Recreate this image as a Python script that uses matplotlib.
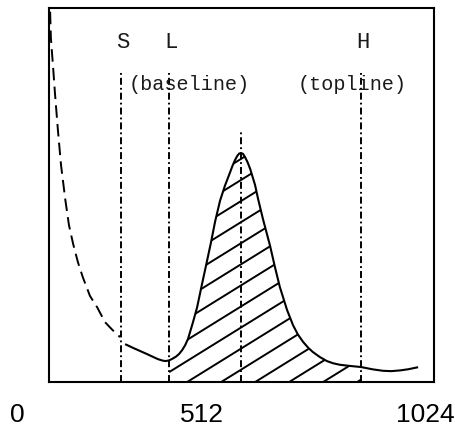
import numpy as np
import matplotlib
matplotlib.use("Agg")
import matplotlib.pyplot as plt
from matplotlib.collections import LineCollection

plt.rcParams["lines.scale_dashes"] = False

# low-energy tail below S (drawn dashed)
TAIL_CH = [3, 5, 11, 16, 24, 32, 43, 53, 64, 77, 90, 109, 128, 149, 168, 189]
TAIL_Y = [0.99, 0.92, 0.84, 0.77, 0.67, 0.58, 0.49, 0.42, 0.37, 0.32, 0.28,
          0.23, 0.20, 0.16, 0.14, 0.12]

# measured spectrum from S upwards
SPEC_CH = [205, 224, 242, 260, 277, 290, 303, 311, 320, 328, 338, 346, 354,
           362, 370, 383, 394, 407, 418, 431, 442, 455, 468, 481, 488, 495,
           501, 506, 511, 516, 521, 528, 535, 548, 556, 569, 588, 601, 614,
           633, 649, 662, 676, 690, 702, 720, 739, 756, 774, 800, 830, 860,
           888, 910, 934, 955, 979]
SPEC_Y = [0.100, 0.091, 0.083, 0.075, 0.067, 0.061, 0.057, 0.056, 0.058,
          0.062, 0.068, 0.075, 0.085, 0.098, 0.116, 0.160, 0.200, 0.262,
          0.313, 0.374, 0.430, 0.485, 0.525, 0.559, 0.578, 0.594, 0.605,
          0.611, 0.612, 0.610, 0.602, 0.588, 0.570, 0.527, 0.490, 0.436,
          0.364, 0.307, 0.254, 0.193, 0.152, 0.127, 0.107, 0.091, 0.080,
          0.067, 0.056, 0.050, 0.046, 0.043, 0.040, 0.034, 0.030, 0.029,
          0.031, 0.034, 0.039]

# marker lines: S, L (baseline), peak, H (topline)
MARK_CH = [191, 320, 511, 830]
MARK_TOP = [0.835, 0.835, 0.668, 0.835]
MARK_NAMES = ["S", "L", "H"]
MARK_NAME_CH = [191, 320, 830]
XTICK_LABELS = ["0", "512", "1024"]

L_CH, H_CH = 320, 830

W, H = 456, 427
fig = plt.figure(figsize=(W / 100, H / 100), dpi=100)
ax = fig.add_axes([49 / W, 1 - 383 / H, 385 / W, 374 / H])
ax.set_xlim(0, 1024)
ax.set_ylim(0, 1)
ax.set_xticks([])
ax.set_yticks([])
for sp in ax.spines.values():
    sp.set_linewidth(1.5)

dashdot = (0, (5, 2.2, 1.3, 2.2))
ax.vlines(MARK_CH, 0, MARK_TOP, colors="black", lw=1.4, linestyles=[dashdot])

ax.plot(TAIL_CH, TAIL_Y, color="black", lw=1.4, ls=(0, (9, 4.5)))
ax.plot(SPEC_CH, SPEC_Y, color="black", lw=1.5)

# hatched net-peak area between L and H
x = np.array(SPEC_CH)
y = np.array(SPEC_Y)
sel = (x >= L_CH) & (x <= H_CH)
area = ax.fill_between(x[sel], 0, y[sel], facecolor="none", edgecolor="none")

slope = 0.62 * 385 / 374          # hatch direction in axes fraction
step = 34 / 385
c0 = L_CH / 1024 - (10 / 374) / slope
segs = [[(0, -slope * c), (1, slope * (1 - c))]
        for c in c0 + step * np.arange(-10, 12)]
hatch = LineCollection(segs, colors="black", linewidths=1.4,
                       transform=ax.transAxes)
ax.add_collection(hatch)
hatch.set_clip_path(area.get_paths()[0], ax.transData)

lab = dict(family="Liberation Mono", fontsize=14.5, color="#1a1a1a",
           ha="center", va="baseline")
for name, ch in zip(MARK_NAMES, MARK_NAME_CH):
    ax.text(ch + 4, 0.895, name, **{**lab, "fontsize": 16})
ax.text(372, 0.783, "(baseline)", **lab)
ax.text(806, 0.783, "(topline)", **lab)

for s, px in zip(XTICK_LABELS, [17.5, 201.5, 425]):
    fig.text(px / W, 0.0, s, family="Liberation Sans", fontsize=19,
             ha="center", va="bottom")

fig.savefig("out.png", dpi=100)
